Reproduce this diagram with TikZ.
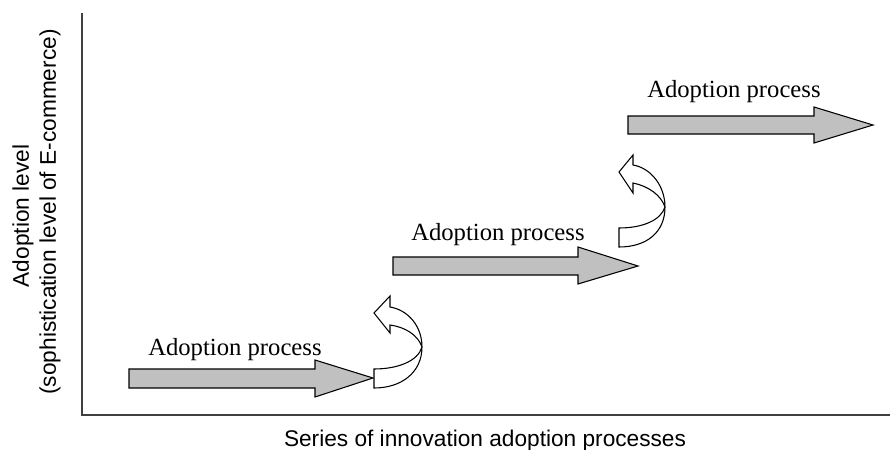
\documentclass[tikz,border=0pt]{standalone}
\usepackage{fontspec}
\setmainfont{Liberation Serif}
\newfontfamily\arialfont{Liberation Sans}
\definecolor{fillgray}{RGB}{192,192,192}
\definecolor{axisgray}{RGB}{64,64,64}
\begin{document}
\begin{tikzpicture}[x=0.75pt,y=-0.75pt,
  bigarrow/.style={draw=black,fill=fillgray,line width=0.8pt,line join=miter},
  turnarrow/.style={draw=black,fill=white,line width=0.8pt,line join=miter},
  axisline/.style={draw=axisgray,line width=1.5pt},
  proclabel/.style={font=\fontsize{18.5}{22}\selectfont,anchor=base west,inner sep=0pt},
  axislabel/.style={font=\arialfont\fontsize{17}{20}\selectfont,inner sep=0pt}]
\useasboundingbox (0,0) rectangle (890,450);
% axes
\coordinate (top) at (82,13);
\coordinate (origin) at (82,415);
\coordinate (right) at (890,415);
\draw[axisline] (top) -- (origin) -- (right);
% axis labels
\node[axislabel,anchor=base] (xlab) at (485,446) {Series of innovation adoption processes};
\node[axislabel,rotate=90] (ylab1) at (23,216) {Adoption level};
\node[axislabel,rotate=90] (ylab2) at (50,212) {(sophistication level of E-commerce)};
% gray arrows
\path[bigarrow] (129,369) -- (315,369) -- (315,360) -- (373,378) -- (315,397) -- (315,388) -- (129,388) -- cycle;
\path[bigarrow] (393,257) -- (578,257) -- (578,247) -- (638,266) -- (578,284) -- (578,275) -- (393,275) -- cycle;
\path[bigarrow] (628,116) -- (814,116) -- (814,107) -- (873,125) -- (814,143) -- (814,134) -- (628,134) -- cycle;
% labels
\node[proclabel] (l1) at (148,355) {Adoption process};
\node[proclabel] (l2) at (411,240) {Adoption process};
\node[proclabel] (l3) at (647,97) {Adoption process};
% turning arrows
\path[turnarrow] (374,369) -- (374,388) .. controls (402,388) and (422,372) .. (422,347)
  .. controls (422,326) and (408,310) .. (390,307) -- (390,296) -- (374,313) -- (390,333) -- (390,325)
  .. controls (405,327) and (418,335) .. (422,347)
  .. controls (418,361) and (398,369) .. (374,369) -- cycle;
\path[turnarrow] (619,228) -- (619,247) .. controls (647,247) and (665,232) .. (665,207)
  .. controls (665,186) and (651,168) .. (633,165) -- (633,155) -- (619,172) -- (633,193) -- (633,183)
  .. controls (648,186) and (661,195) .. (665,207)
  .. controls (661,220) and (643,228) .. (619,228) -- cycle;
\end{tikzpicture}
\end{document}
